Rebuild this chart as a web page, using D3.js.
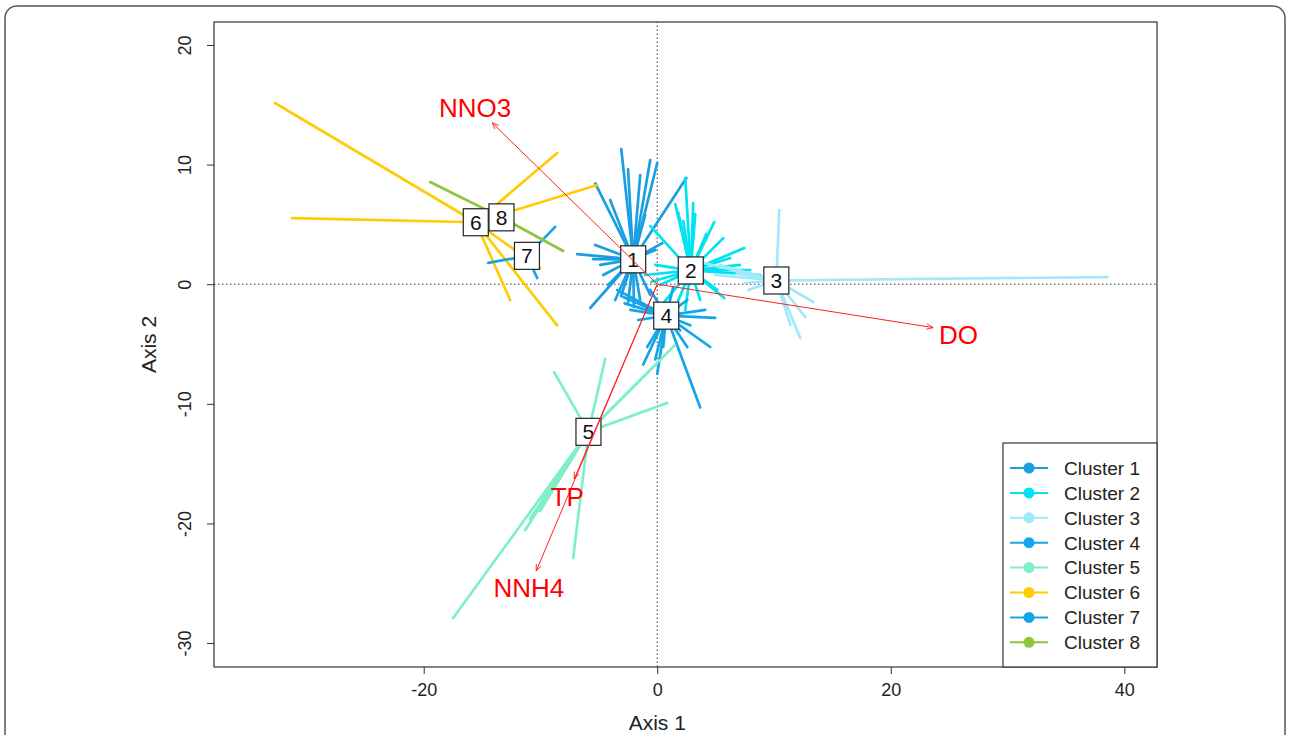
<!DOCTYPE html>
<html lang="en">
<head>
<meta charset="utf-8">
<title>class star plot</title>
<script src="https://cdnjs.cloudflare.com/ajax/libs/d3/7.8.5/d3.min.js"></script>
<style>
  body { margin: 0; background: #fff; }
  svg text { font-family: "Liberation Sans", Arial, sans-serif; }
</style>
</head>
<body>
<script>
// cluster names and colours
var clusters = ["Cluster 1", "Cluster 2", "Cluster 3", "Cluster 4",
                "Cluster 5", "Cluster 6", "Cluster 7", "Cluster 8"];
var colors = ["#1a9fe0", "#00e3f2", "#9fe9fb", "#12a7ea",
              "#7eefc9", "#ffcb05", "#17a3e6", "#8cc63a"];

// centroids (axis 1, axis 2)
var centers = [[-2.06, 2.08], [2.87, 1.15], [10.2, 0.31], [0.77, -2.63],
               [-5.89, -12.34], [-15.54, 5.18], [-11.16, 2.37], [-13.34, 5.59]];

// sample points of each cluster
var pts1 = [[-3.08, 11.3], [-0.6, 10.38], [0.0, 10.13], [-1.46, 9.13], [-5.31, 8.43],
            [2.49, 8.88], [-4.03, 7.04], [-6.86, 2.52], [-5.31, 3.28], [-4.88, 1.61],
            [-4.63, 0.77], [-5.74, -1.99], [0.43, 3.44], [-0.17, 2.86], [-3.6, -1.32],
            [-2.49, -1.49], [-1.46, -1.32], [-0.6, -0.9], [-4.2, -0.07], [-1.03, 5.79],
            [-2.0, -1.9], [-3.1, -1.0], [-5.5, 2.1], [-2.5, 9.6]];
var pts2 = [[2.4, 8.88], [1.54, 6.7], [3.08, 6.79], [3.26, 5.87], [2.23, 5.28],
            [4.88, 5.19], [5.66, 3.85], [7.46, 3.02], [-0.6, 4.87], [5.74, -1.15],
            [5.14, -0.48], [3.68, -1.32], [2.4, -2.15], [1.11, -2.99], [-1.03, 0.77],
            [-0.17, 1.61], [7.08, 1.61], [7.97, 1.19], [8.82, 0.77], [0.26, -0.07], [6.26, 2.19],
            [1.8, 6.0], [4.2, 4.2], [0.5, -1.6], [-0.5, 0.2]];
var pts3 = [[38.56, 0.6], [10.45, 6.2], [12.25, -4.5], [13.37, -1.49], [11.4, -3.4],
            [5.36, 1.61], [6.21, 1.36], [4.97, 0.77], [7.54, 0.1], [7.8, -0.48],
            [12.68, -2.74], [3.68, 1.86], [6.8, 0.9]];
var pts4 = [[3.68, -10.3], [4.54, -5.25], [4.97, -2.82], [-1.2, -6.71], [-1.63, -2.99],
            [-3.43, -0.48], [-2.91, -1.07], [1.37, -0.23], [-0.86, -5.25], [2.57, -1.32],
            [2.57, -5.25], [0.51, -5.25], [4.11, -2.15], [-2.31, -2.15], [-0.17, -6.29],
            [1.97, -3.86], [-0.6, -0.48], [2.83, -3.44], [-2.8, -1.6], [0.0, -7.5]];
var pts5 = [[-4.46, -6.24], [-8.83, -7.36], [0.86, -9.92], [1.54, -5.07], [-0.17, -6.74],
            [-17.48, -27.9], [-11.31, -20.55], [-7.2, -22.89], [-10.03, -18.96], [-10.9, -19.6]];
var pts6 = [[-32.74, 15.15], [-31.28, 5.53], [-8.57, 10.97], [-5.14, 8.3],
            [-12.6, -1.32], [-8.57, -3.44], [-10.03, 1.35]];
var pts7 = [[-14.48, 1.78], [-8.74, 4.79], [-10.28, 0.52]];
var pts8 = [[-19.45, 8.54], [-8.05, 2.78]];
var points = [pts1, pts2, pts3, pts4, pts5, pts6, pts7, pts8];

// environmental variables (arrow tips and label anchors)
var varNames = ["NNO3", "DO", "TP", "NNH4"];
var varTips = [[-14.14, 13.5], [23.65, -3.63], [-7.11, -16.28], [-10.37, -23.98]];
var varLabels = [[-15.6, 14.75], [25.8, -4.2], [-7.7, -17.8], [-11.0, -25.4]];

var xTicks = [-20, 0, 20, 40];
var yTicks = [-30, -20, -10, 0, 10, 20];

var W = 1290, H = 735;
var margin = {top: 22, right: 133, bottom: 68, left: 214};

var svg = d3.select("body").append("svg")
    .attr("width", W).attr("height", H);

// outer frame
svg.append("rect")
   .attr("x", 5).attr("y", 6)
   .attr("width", W - 10).attr("height", H + 20)
   .attr("rx", 12)
   .attr("fill", "none")
   .attr("stroke", "#555")
   .attr("stroke-width", 1.5);

var x = d3.scaleLinear().domain([-37.96, 42.8]).range([margin.left, W - margin.right]);
var y = d3.scaleLinear().domain([-32.0, 21.92]).range([H - margin.bottom, margin.top]);

// dotted zero lines
svg.append("line")
   .attr("x1", x.range()[0]).attr("x2", x.range()[1])
   .attr("y1", y(0)).attr("y2", y(0))
   .attr("stroke", "#333").attr("stroke-dasharray", "1.5,2.5");
svg.append("line")
   .attr("x1", x(0)).attr("x2", x(0))
   .attr("y1", y.range()[0]).attr("y2", y.range()[1])
   .attr("stroke", "#333").attr("stroke-dasharray", "1.5,2.5");

// star lines
points.forEach(function(pts, i) {
  svg.append("g")
     .selectAll("line")
     .data(pts)
     .enter()
     .append("line")
     .attr("x1", x(centers[i][0]))
     .attr("y1", y(centers[i][1]))
     .attr("x2", function(d) { return x(d[0]); })
     .attr("y2", function(d) { return y(d[1]); })
     .attr("stroke", colors[i])
     .attr("stroke-width", 2.7)
     .attr("stroke-linecap", "round");
});

// centroid labels
var lab = svg.append("g").selectAll("g")
    .data(centers)
    .enter()
    .append("g")
    .attr("transform", function(d) { return "translate(" + x(d[0]) + "," + y(d[1]) + ")"; });
lab.append("rect")
   .attr("x", -12.5).attr("y", -13.5)
   .attr("width", 25).attr("height", 27)
   .attr("fill", "white").attr("stroke", "#222").attr("stroke-width", 1.2);
lab.append("text")
   .attr("text-anchor", "middle")
   .attr("dy", "0.36em")
   .style("font-size", "21px")
   .attr("fill", "#111")
   .text(function(d, i) { return i + 1; });

// arrows for variables
var defs = svg.append("defs");
defs.append("marker")
    .attr("id", "head")
    .attr("viewBox", "0 -5 10 10")
    .attr("refX", 10).attr("refY", 0)
    .attr("markerWidth", 7).attr("markerHeight", 7)
    .attr("markerUnits", "userSpaceOnUse")
    .attr("orient", "auto")
    .append("path")
    .attr("d", "M0,-4L10,0L0,4")
    .attr("fill", "none")
    .attr("stroke", "#ff2020")
    .attr("stroke-width", 1.2);

svg.append("g").selectAll("line")
   .data(varTips)
   .enter()
   .append("line")
   .attr("x1", x(0)).attr("y1", y(0))
   .attr("x2", function(d) { return x(d[0]); })
   .attr("y2", function(d) { return y(d[1]); })
   .attr("stroke", "#ff2020")
   .attr("stroke-width", 1)
   .attr("marker-end", "url(#head)");

svg.append("g").selectAll("text")
   .data(varLabels)
   .enter()
   .append("text")
   .attr("x", function(d) { return x(d[0]); })
   .attr("y", function(d) { return y(d[1]); })
   .attr("text-anchor", "middle")
   .attr("dy", "0.36em")
   .attr("fill", "#ff0000")
   .style("font-size", "26px")
   .text(function(d, i) { return varNames[i]; });

// plot box
svg.append("rect")
   .attr("x", x.range()[0]).attr("y", y.range()[1])
   .attr("width", x.range()[1] - x.range()[0])
   .attr("height", y.range()[0] - y.range()[1])
   .attr("fill", "none").attr("stroke", "#333").attr("stroke-width", 1.2);

// axes
var fmt = function(d) { return String(d); };
var xAxis = svg.append("g")
   .attr("transform", "translate(0," + (H - margin.bottom) + ")")
   .call(d3.axisBottom(x).tickValues(xTicks).tickSize(7).tickPadding(9).tickFormat(fmt));
var yAxis = svg.append("g")
   .attr("transform", "translate(" + margin.left + ",0)")
   .call(d3.axisLeft(y).tickValues(yTicks).tickSize(7).tickFormat(fmt));
[xAxis, yAxis].forEach(function(a) {
  a.select(".domain").remove();
  a.selectAll("line").attr("stroke", "#333");
  a.selectAll("text").style("font-size", "18px").attr("fill", "#222")
   .style("font-family", "'Liberation Sans', Arial, sans-serif");
});
yAxis.selectAll("text")
   .attr("x", null).attr("dy", null)
   .attr("text-anchor", "middle")
   .attr("transform", "translate(-29,0) rotate(-90)")
   .attr("y", 0).attr("dy", "0.36em");

// axis titles
svg.append("text")
   .attr("x", x(0)).attr("y", 722)
   .attr("text-anchor", "middle").attr("dy", "0.36em")
   .style("font-size", "21px").attr("fill", "#222")
   .text("Axis 1");
svg.append("text")
   .attr("transform", "translate(148," + ((y.range()[0] + y.range()[1]) / 2) + ") rotate(-90)")
   .attr("text-anchor", "middle").attr("dy", "0.36em")
   .style("font-size", "21px").attr("fill", "#222")
   .text("Axis 2");

// legend
var lg = svg.append("g").attr("transform", "translate(1003,443)");
lg.append("rect")
  .attr("width", x.range()[1] - 1003).attr("height", y.range()[0] - 443)
  .attr("fill", "white").attr("stroke", "#333").attr("stroke-width", 1.2);
var item = lg.selectAll("g.item")
  .data(clusters)
  .enter()
  .append("g")
  .attr("class", "item")
  .attr("transform", function(d, i) { return "translate(0," + (25 + i * 24.9) + ")"; });
item.append("line")
  .attr("x1", 7).attr("x2", 45)
  .attr("stroke", function(d, i) { return colors[i]; })
  .attr("stroke-width", 2);
item.append("circle")
  .attr("cx", 26).attr("r", 5.5)
  .attr("fill", function(d, i) { return colors[i]; });
item.append("text")
  .attr("x", 61).attr("dy", "0.36em")
  .style("font-size", "19px").attr("fill", "#222")
  .text(function(d) { return d; });
</script>
</body>
</html>
